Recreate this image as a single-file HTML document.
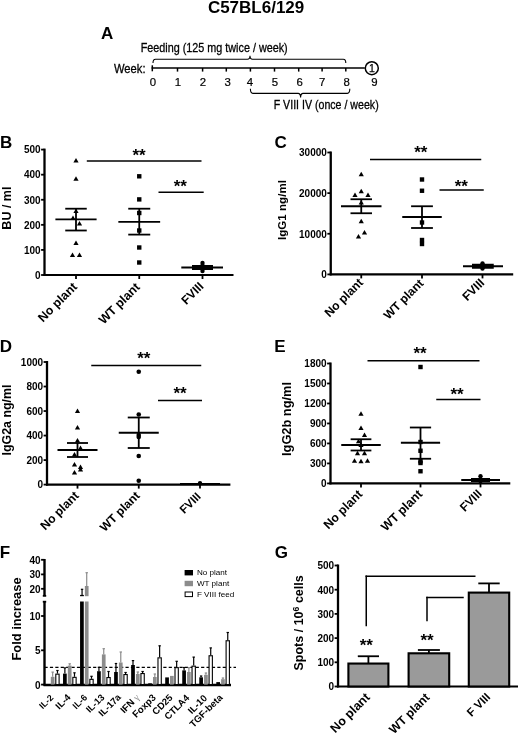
<!DOCTYPE html>
<html><head><meta charset="utf-8"><style>
html,body{margin:0;padding:0;background:#fff;}
svg{display:block;will-change:transform;font-family:"Liberation Sans", sans-serif;}
</style></head><body>
<svg width="520" height="735" viewBox="0 0 520 735">
<rect width="520" height="735" fill="#fff"/>
<text x="256.10" y="13.30" font-size="17" font-weight="bold" text-anchor="middle" fill="#000" >C57BL6/129</text>
<text x="101.00" y="39.40" font-size="17" font-weight="bold" text-anchor="start" fill="#000" >A</text>
<text x="140.70" y="52.10" font-size="12.6" font-weight="normal" text-anchor="start" fill="#000" textLength="147" lengthAdjust="spacingAndGlyphs" stroke="#000" stroke-width="0.3">Feeding (125 mg twice / week)</text>
<text x="114.00" y="73.00" font-size="12.6" font-weight="normal" text-anchor="start" fill="#000" textLength="31.5" lengthAdjust="spacingAndGlyphs" stroke="#000" stroke-width="0.3">Week:</text>
<line x1="151.60" y1="68.00" x2="364.80" y2="68.00" stroke="#000" stroke-width="1.7" />
<line x1="152.30" y1="65.30" x2="152.30" y2="71.30" stroke="#000" stroke-width="1.5" />
<line x1="177.50" y1="68.00" x2="177.50" y2="71.60" stroke="#000" stroke-width="1.5" />
<line x1="202.60" y1="68.00" x2="202.60" y2="71.60" stroke="#000" stroke-width="1.5" />
<line x1="226.30" y1="68.00" x2="226.30" y2="71.60" stroke="#000" stroke-width="1.5" />
<line x1="250.40" y1="68.00" x2="250.40" y2="71.60" stroke="#000" stroke-width="1.5" />
<line x1="274.50" y1="68.00" x2="274.50" y2="71.60" stroke="#000" stroke-width="1.5" />
<line x1="298.70" y1="68.00" x2="298.70" y2="71.60" stroke="#000" stroke-width="1.5" />
<line x1="322.10" y1="68.00" x2="322.10" y2="71.60" stroke="#000" stroke-width="1.5" />
<line x1="345.80" y1="68.00" x2="345.80" y2="71.60" stroke="#000" stroke-width="1.5" />
<text x="152.80" y="86.40" font-size="11.4" font-weight="normal" text-anchor="middle" fill="#000" stroke="#000" stroke-width="0.2">0</text>
<text x="177.90" y="86.40" font-size="11.4" font-weight="normal" text-anchor="middle" fill="#000" stroke="#000" stroke-width="0.2">1</text>
<text x="203.00" y="86.40" font-size="11.4" font-weight="normal" text-anchor="middle" fill="#000" stroke="#000" stroke-width="0.2">2</text>
<text x="227.70" y="86.40" font-size="11.4" font-weight="normal" text-anchor="middle" fill="#000" stroke="#000" stroke-width="0.2">3</text>
<text x="250.00" y="86.40" font-size="11.4" font-weight="normal" text-anchor="middle" fill="#000" stroke="#000" stroke-width="0.2">4</text>
<text x="275.00" y="86.40" font-size="11.4" font-weight="normal" text-anchor="middle" fill="#000" stroke="#000" stroke-width="0.2">5</text>
<text x="299.60" y="86.40" font-size="11.4" font-weight="normal" text-anchor="middle" fill="#000" stroke="#000" stroke-width="0.2">6</text>
<text x="322.10" y="86.40" font-size="11.4" font-weight="normal" text-anchor="middle" fill="#000" stroke="#000" stroke-width="0.2">7</text>
<text x="346.70" y="86.40" font-size="11.4" font-weight="normal" text-anchor="middle" fill="#000" stroke="#000" stroke-width="0.2">8</text>
<text x="374.30" y="86.40" font-size="11.4" font-weight="normal" text-anchor="middle" fill="#000" stroke="#000" stroke-width="0.2">9</text>
<circle cx="371.8" cy="68.2" r="6.5" fill="#fff" stroke="#000" stroke-width="1.5"/>
<text x="371.90" y="72.20" font-size="10.5" font-weight="normal" text-anchor="middle" fill="#000" stroke="#000" stroke-width="0.25">1</text>
<path d="M153.00 63.00 Q153.00 59.20 155.50 59.20 L247.50 59.20 Q250.00 59.20 250.00 55.80 Q250.00 59.20 252.50 59.20 L343.30 59.20 Q345.80 59.20 345.80 63.00" fill="none" stroke="#000" stroke-width="1.1"/>
<path d="M250.40 88.80 Q250.40 93.40 252.90 93.40 L298.10 93.40 Q300.60 93.40 300.60 97.60 Q300.60 93.40 303.10 93.40 L347.30 93.40 Q349.80 93.40 349.80 88.80" fill="none" stroke="#000" stroke-width="1.1"/>
<text x="273.70" y="108.60" font-size="12.6" font-weight="normal" text-anchor="start" fill="#000" textLength="105" lengthAdjust="spacingAndGlyphs" stroke="#000" stroke-width="0.3">F VIII IV (once / week)</text>
<text x="0.00" y="148.20" font-size="17" font-weight="bold" text-anchor="start" fill="#000" >B</text>
<line x1="44.50" y1="148.60" x2="44.50" y2="276.00" stroke="#000" stroke-width="2.3" />
<line x1="43.50" y1="275.00" x2="233.50" y2="275.00" stroke="#000" stroke-width="2.2" />
<line x1="41.10" y1="275.00" x2="44.50" y2="275.00" stroke="#000" stroke-width="1.8" />
<text x="40.60" y="278.80" font-size="10" font-weight="bold" text-anchor="end" fill="#000" >0</text>
<line x1="41.10" y1="249.92" x2="44.50" y2="249.92" stroke="#000" stroke-width="1.8" />
<text x="40.60" y="253.72" font-size="10" font-weight="bold" text-anchor="end" fill="#000" >100</text>
<line x1="41.10" y1="224.84" x2="44.50" y2="224.84" stroke="#000" stroke-width="1.8" />
<text x="40.60" y="228.64" font-size="10" font-weight="bold" text-anchor="end" fill="#000" >200</text>
<line x1="41.10" y1="199.76" x2="44.50" y2="199.76" stroke="#000" stroke-width="1.8" />
<text x="40.60" y="203.56" font-size="10" font-weight="bold" text-anchor="end" fill="#000" >300</text>
<line x1="41.10" y1="174.68" x2="44.50" y2="174.68" stroke="#000" stroke-width="1.8" />
<text x="40.60" y="178.48" font-size="10" font-weight="bold" text-anchor="end" fill="#000" >400</text>
<line x1="41.10" y1="149.60" x2="44.50" y2="149.60" stroke="#000" stroke-width="1.8" />
<text x="40.60" y="153.40" font-size="10" font-weight="bold" text-anchor="end" fill="#000" >500</text>
<line x1="76.00" y1="275.00" x2="76.00" y2="279.00" stroke="#000" stroke-width="1.8" />
<text transform="translate(78.00,287.60) rotate(-45)" font-size="12.4" font-weight="bold" text-anchor="end">No plant</text>
<line x1="139.25" y1="275.00" x2="139.25" y2="279.00" stroke="#000" stroke-width="1.8" />
<text transform="translate(140.65,287.80) rotate(-45)" font-size="12.4" font-weight="bold" text-anchor="end">WT plant</text>
<line x1="202.50" y1="275.00" x2="202.50" y2="279.00" stroke="#000" stroke-width="1.8" />
<text transform="translate(204.30,287.10) rotate(-45)" font-size="12.1" font-weight="bold" text-anchor="end">FVIII</text>
<text transform="translate(11.40,208.10) rotate(-90)" font-size="12.5" font-weight="bold" text-anchor="middle">BU / ml</text>
<path d="M76.00 157.90L78.60 162.58L73.40 162.58Z"/>
<path d="M76.00 176.15L78.60 180.83L73.40 180.83Z"/>
<path d="M76.00 208.40L78.60 213.08L73.40 213.08Z"/>
<path d="M73.00 215.40L75.60 220.08L70.40 220.08Z"/>
<path d="M79.50 220.90L82.10 225.58L76.90 225.58Z"/>
<path d="M76.00 240.40L78.60 245.08L73.40 245.08Z"/>
<path d="M72.50 252.40L75.10 257.08L69.90 257.08Z"/>
<path d="M79.50 252.40L82.10 257.08L76.90 257.08Z"/>
<line x1="55.40" y1="219.30" x2="96.60" y2="219.30" stroke="#000" stroke-width="1.8" />
<line x1="65.25" y1="208.70" x2="86.75" y2="208.70" stroke="#000" stroke-width="1.8" />
<line x1="65.25" y1="230.50" x2="86.75" y2="230.50" stroke="#000" stroke-width="1.8" />
<line x1="76.00" y1="208.70" x2="76.00" y2="230.50" stroke="#000" stroke-width="1.8" />
<rect x="137.05" y="174.10" width="4.40" height="4.40"/>
<rect x="137.05" y="197.20" width="4.40" height="4.40"/>
<rect x="137.05" y="210.80" width="4.40" height="4.40"/>
<rect x="137.05" y="228.30" width="4.40" height="4.40"/>
<rect x="137.05" y="245.30" width="4.40" height="4.40"/>
<rect x="137.05" y="260.30" width="4.40" height="4.40"/>
<line x1="118.35" y1="221.80" x2="160.15" y2="221.80" stroke="#000" stroke-width="1.8" />
<line x1="128.25" y1="208.70" x2="150.25" y2="208.70" stroke="#000" stroke-width="1.8" />
<line x1="128.25" y1="234.60" x2="150.25" y2="234.60" stroke="#000" stroke-width="1.8" />
<line x1="139.25" y1="208.70" x2="139.25" y2="234.60" stroke="#000" stroke-width="1.8" />
<circle cx="202.50" cy="263.00" r="2.2"/>
<circle cx="202.50" cy="266.00" r="2.2"/>
<circle cx="202.50" cy="268.50" r="2.2"/>
<circle cx="202.50" cy="271.00" r="2.2"/>
<circle cx="200.50" cy="267.00" r="2.2"/>
<circle cx="204.50" cy="267.00" r="2.2"/>
<line x1="181.30" y1="267.50" x2="223.00" y2="267.50" stroke="#000" stroke-width="1.8" />
<line x1="192.00" y1="267.50" x2="213.00" y2="267.50" stroke="#000" stroke-width="5" />
<line x1="86.80" y1="161.00" x2="201.50" y2="161.00" stroke="#000" stroke-width="1.6" />
<text x="139.00" y="160.62" font-size="17" font-weight="bold" text-anchor="middle" fill="#000" >**</text>
<line x1="158.50" y1="192.30" x2="203.70" y2="192.30" stroke="#000" stroke-width="1.6" />
<text x="180.30" y="192.32" font-size="17" font-weight="bold" text-anchor="middle" fill="#000" >**</text>
<text x="274.60" y="148.20" font-size="17" font-weight="bold" text-anchor="start" fill="#000" >C</text>
<line x1="330.75" y1="151.50" x2="330.75" y2="275.40" stroke="#000" stroke-width="2.3" />
<line x1="329.75" y1="274.40" x2="513.20" y2="274.40" stroke="#000" stroke-width="2.2" />
<line x1="327.35" y1="274.40" x2="330.75" y2="274.40" stroke="#000" stroke-width="1.8" />
<text x="326.85" y="278.20" font-size="10" font-weight="bold" text-anchor="end" fill="#000" >0</text>
<line x1="327.35" y1="233.77" x2="330.75" y2="233.77" stroke="#000" stroke-width="1.8" />
<text x="326.85" y="237.57" font-size="10" font-weight="bold" text-anchor="end" fill="#000" >10000</text>
<line x1="327.35" y1="193.13" x2="330.75" y2="193.13" stroke="#000" stroke-width="1.8" />
<text x="326.85" y="196.93" font-size="10" font-weight="bold" text-anchor="end" fill="#000" >20000</text>
<line x1="327.35" y1="152.50" x2="330.75" y2="152.50" stroke="#000" stroke-width="1.8" />
<text x="326.85" y="156.30" font-size="10" font-weight="bold" text-anchor="end" fill="#000" >30000</text>
<line x1="361.25" y1="274.40" x2="361.25" y2="278.40" stroke="#000" stroke-width="1.8" />
<text transform="translate(363.85,283.30) rotate(-45)" font-size="12.2" font-weight="bold" text-anchor="end">No plant</text>
<line x1="422.00" y1="274.40" x2="422.00" y2="278.40" stroke="#000" stroke-width="1.8" />
<text transform="translate(424.30,284.10) rotate(-45)" font-size="12.0" font-weight="bold" text-anchor="end">WT plant</text>
<line x1="482.50" y1="274.40" x2="482.50" y2="278.40" stroke="#000" stroke-width="1.8" />
<text transform="translate(485.20,283.50) rotate(-45)" font-size="12.1" font-weight="bold" text-anchor="end">FVIII</text>
<text transform="translate(286.20,210.00) rotate(-90)" font-size="11.6" font-weight="bold" text-anchor="middle">IgG1 ng/ml</text>
<path d="M361.25 171.65L363.85 176.33L358.65 176.33Z"/>
<path d="M355.00 192.40L357.60 197.08L352.40 197.08Z"/>
<path d="M361.25 188.65L363.85 193.33L358.65 193.33Z"/>
<path d="M368.00 192.40L370.60 197.08L365.40 197.08Z"/>
<path d="M361.25 199.90L363.85 204.58L358.65 204.58Z"/>
<path d="M361.25 218.65L363.85 223.33L358.65 223.33Z"/>
<path d="M364.50 229.90L367.10 234.58L361.90 234.58Z"/>
<path d="M358.50 233.90L361.10 238.58L355.90 238.58Z"/>
<line x1="341.00" y1="206.25" x2="381.50" y2="206.25" stroke="#000" stroke-width="1.8" />
<line x1="350.50" y1="199.25" x2="372.00" y2="199.25" stroke="#000" stroke-width="1.8" />
<line x1="350.50" y1="213.25" x2="372.00" y2="213.25" stroke="#000" stroke-width="1.8" />
<line x1="361.25" y1="199.25" x2="361.25" y2="213.25" stroke="#000" stroke-width="1.8" />
<rect x="419.80" y="177.30" width="4.40" height="4.40"/>
<rect x="419.80" y="188.55" width="4.40" height="4.40"/>
<rect x="419.80" y="220.30" width="4.40" height="4.40"/>
<rect x="419.80" y="237.80" width="4.40" height="4.40"/>
<rect x="419.80" y="241.80" width="4.40" height="4.40"/>
<line x1="402.25" y1="217.00" x2="441.75" y2="217.00" stroke="#000" stroke-width="1.8" />
<line x1="411.10" y1="206.25" x2="432.90" y2="206.25" stroke="#000" stroke-width="1.8" />
<line x1="411.10" y1="228.00" x2="432.90" y2="228.00" stroke="#000" stroke-width="1.8" />
<line x1="422.00" y1="206.25" x2="422.00" y2="228.00" stroke="#000" stroke-width="1.8" />
<circle cx="482.50" cy="263.50" r="2.2"/>
<circle cx="482.50" cy="266.00" r="2.2"/>
<circle cx="482.50" cy="268.50" r="2.2"/>
<circle cx="480.50" cy="266.00" r="2.2"/>
<circle cx="484.50" cy="266.00" r="2.2"/>
<line x1="463.00" y1="266.25" x2="503.00" y2="266.25" stroke="#000" stroke-width="1.8" />
<line x1="472.00" y1="266.25" x2="493.75" y2="266.25" stroke="#000" stroke-width="5" />
<line x1="370.00" y1="159.50" x2="481.25" y2="159.50" stroke="#000" stroke-width="1.6" />
<text x="420.75" y="157.62" font-size="17" font-weight="bold" text-anchor="middle" fill="#000" >**</text>
<line x1="439.50" y1="190.00" x2="483.75" y2="190.00" stroke="#000" stroke-width="1.6" />
<text x="461.25" y="191.62" font-size="17" font-weight="bold" text-anchor="middle" fill="#000" >**</text>
<text x="-0.30" y="352.40" font-size="17" font-weight="bold" text-anchor="start" fill="#000" >D</text>
<line x1="47.00" y1="361.00" x2="47.00" y2="485.60" stroke="#000" stroke-width="2.3" />
<line x1="46.00" y1="484.60" x2="230.40" y2="484.60" stroke="#000" stroke-width="2.2" />
<line x1="43.60" y1="484.60" x2="47.00" y2="484.60" stroke="#000" stroke-width="1.8" />
<text x="43.10" y="488.40" font-size="10" font-weight="bold" text-anchor="end" fill="#000" >0</text>
<line x1="43.60" y1="460.08" x2="47.00" y2="460.08" stroke="#000" stroke-width="1.8" />
<text x="43.10" y="463.88" font-size="10" font-weight="bold" text-anchor="end" fill="#000" >200</text>
<line x1="43.60" y1="435.56" x2="47.00" y2="435.56" stroke="#000" stroke-width="1.8" />
<text x="43.10" y="439.36" font-size="10" font-weight="bold" text-anchor="end" fill="#000" >400</text>
<line x1="43.60" y1="411.04" x2="47.00" y2="411.04" stroke="#000" stroke-width="1.8" />
<text x="43.10" y="414.84" font-size="10" font-weight="bold" text-anchor="end" fill="#000" >600</text>
<line x1="43.60" y1="386.52" x2="47.00" y2="386.52" stroke="#000" stroke-width="1.8" />
<text x="43.10" y="390.32" font-size="10" font-weight="bold" text-anchor="end" fill="#000" >800</text>
<line x1="43.60" y1="362.00" x2="47.00" y2="362.00" stroke="#000" stroke-width="1.8" />
<text x="43.10" y="365.80" font-size="10" font-weight="bold" text-anchor="end" fill="#000" >1000</text>
<line x1="77.50" y1="484.60" x2="77.50" y2="488.60" stroke="#000" stroke-width="1.8" />
<text transform="translate(79.70,496.30) rotate(-45)" font-size="12.2" font-weight="bold" text-anchor="end">No plant</text>
<line x1="138.75" y1="484.60" x2="138.75" y2="488.60" stroke="#000" stroke-width="1.8" />
<text transform="translate(140.55,496.40) rotate(-45)" font-size="12.0" font-weight="bold" text-anchor="end">WT plant</text>
<line x1="200.00" y1="484.60" x2="200.00" y2="488.60" stroke="#000" stroke-width="1.8" />
<text transform="translate(201.50,497.20) rotate(-45)" font-size="11.5" font-weight="bold" text-anchor="end">FVIII</text>
<text transform="translate(10.60,420.00) rotate(-90)" font-size="12.4" font-weight="bold" text-anchor="middle">IgG2a ng/ml</text>
<path d="M77.50 408.40L80.10 413.08L74.90 413.08Z"/>
<path d="M77.50 424.90L80.10 429.58L74.90 429.58Z"/>
<path d="M77.50 437.90L80.10 442.58L74.90 442.58Z"/>
<path d="M80.50 445.40L83.10 450.08L77.90 450.08Z"/>
<path d="M74.50 451.90L77.10 456.58L71.90 456.58Z"/>
<path d="M74.50 461.90L77.10 466.58L71.90 466.58Z"/>
<path d="M80.50 464.40L83.10 469.08L77.90 469.08Z"/>
<path d="M80.50 466.90L83.10 471.58L77.90 471.58Z"/>
<path d="M74.50 469.90L77.10 474.58L71.90 474.58Z"/>
<line x1="57.50" y1="450.00" x2="97.50" y2="450.00" stroke="#000" stroke-width="1.8" />
<line x1="67.00" y1="443.00" x2="88.00" y2="443.00" stroke="#000" stroke-width="1.8" />
<line x1="67.00" y1="457.00" x2="88.00" y2="457.00" stroke="#000" stroke-width="1.8" />
<line x1="77.50" y1="443.00" x2="77.50" y2="457.00" stroke="#000" stroke-width="1.8" />
<circle cx="138.75" cy="371.75" r="2.3"/>
<circle cx="138.75" cy="414.50" r="2.3"/>
<circle cx="138.75" cy="435.00" r="2.3"/>
<circle cx="138.75" cy="437.00" r="2.3"/>
<circle cx="138.75" cy="456.00" r="2.3"/>
<circle cx="138.75" cy="480.75" r="2.3"/>
<line x1="118.75" y1="432.75" x2="158.75" y2="432.75" stroke="#000" stroke-width="1.8" />
<line x1="127.75" y1="417.50" x2="149.75" y2="417.50" stroke="#000" stroke-width="1.8" />
<line x1="127.75" y1="448.00" x2="149.75" y2="448.00" stroke="#000" stroke-width="1.8" />
<line x1="138.75" y1="417.50" x2="138.75" y2="448.00" stroke="#000" stroke-width="1.8" />
<circle cx="200.00" cy="483.20" r="2.2"/>
<line x1="180.00" y1="483.80" x2="220.00" y2="483.80" stroke="#000" stroke-width="1.8" />
<line x1="91.25" y1="365.50" x2="201.25" y2="365.50" stroke="#000" stroke-width="1.6" />
<text x="143.75" y="364.12" font-size="17" font-weight="bold" text-anchor="middle" fill="#000" >**</text>
<line x1="158.00" y1="400.50" x2="202.00" y2="400.50" stroke="#000" stroke-width="1.6" />
<text x="180.00" y="399.12" font-size="17" font-weight="bold" text-anchor="middle" fill="#000" >**</text>
<text x="274.30" y="352.40" font-size="17" font-weight="bold" text-anchor="start" fill="#000" >E</text>
<line x1="330.50" y1="362.50" x2="330.50" y2="484.40" stroke="#000" stroke-width="2.3" />
<line x1="329.50" y1="483.40" x2="510.30" y2="483.40" stroke="#000" stroke-width="2.2" />
<line x1="327.10" y1="483.40" x2="330.50" y2="483.40" stroke="#000" stroke-width="1.8" />
<text x="326.60" y="487.20" font-size="10" font-weight="bold" text-anchor="end" fill="#000" >0</text>
<line x1="327.10" y1="463.42" x2="330.50" y2="463.42" stroke="#000" stroke-width="1.8" />
<text x="326.60" y="467.22" font-size="10" font-weight="bold" text-anchor="end" fill="#000" >300</text>
<line x1="327.10" y1="443.43" x2="330.50" y2="443.43" stroke="#000" stroke-width="1.8" />
<text x="326.60" y="447.23" font-size="10" font-weight="bold" text-anchor="end" fill="#000" >600</text>
<line x1="327.10" y1="423.45" x2="330.50" y2="423.45" stroke="#000" stroke-width="1.8" />
<text x="326.60" y="427.25" font-size="10" font-weight="bold" text-anchor="end" fill="#000" >900</text>
<line x1="327.10" y1="403.47" x2="330.50" y2="403.47" stroke="#000" stroke-width="1.8" />
<text x="326.60" y="407.27" font-size="10" font-weight="bold" text-anchor="end" fill="#000" >1200</text>
<line x1="327.10" y1="383.48" x2="330.50" y2="383.48" stroke="#000" stroke-width="1.8" />
<text x="326.60" y="387.28" font-size="10" font-weight="bold" text-anchor="end" fill="#000" >1500</text>
<line x1="327.10" y1="363.50" x2="330.50" y2="363.50" stroke="#000" stroke-width="1.8" />
<text x="326.60" y="367.30" font-size="10" font-weight="bold" text-anchor="end" fill="#000" >1800</text>
<line x1="361.00" y1="483.40" x2="361.00" y2="487.40" stroke="#000" stroke-width="1.8" />
<text transform="translate(363.20,494.90) rotate(-45)" font-size="12.3" font-weight="bold" text-anchor="end">No plant</text>
<line x1="420.50" y1="483.40" x2="420.50" y2="487.40" stroke="#000" stroke-width="1.8" />
<text transform="translate(423.10,494.80) rotate(-45)" font-size="12.4" font-weight="bold" text-anchor="end">WT plant</text>
<line x1="480.50" y1="483.40" x2="480.50" y2="487.40" stroke="#000" stroke-width="1.8" />
<text transform="translate(482.70,494.30) rotate(-45)" font-size="12.0" font-weight="bold" text-anchor="end">FVIII</text>
<text transform="translate(291.10,419.00) rotate(-90)" font-size="12.8" font-weight="bold" text-anchor="middle">IgG2b ng/ml</text>
<path d="M361.00 411.15L363.60 415.83L358.40 415.83Z"/>
<path d="M361.00 425.40L363.60 430.08L358.40 430.08Z"/>
<path d="M364.50 432.40L367.10 437.08L361.90 437.08Z"/>
<path d="M358.50 438.65L361.10 443.33L355.90 443.33Z"/>
<path d="M361.00 442.40L363.60 447.08L358.40 447.08Z"/>
<path d="M357.50 450.65L360.10 455.33L354.90 455.33Z"/>
<path d="M364.50 450.65L367.10 455.33L361.90 455.33Z"/>
<path d="M354.50 458.15L357.10 462.83L351.90 462.83Z"/>
<path d="M361.00 458.65L363.60 463.33L358.40 463.33Z"/>
<path d="M367.50 458.15L370.10 462.83L364.90 462.83Z"/>
<line x1="341.25" y1="445.00" x2="380.75" y2="445.00" stroke="#000" stroke-width="1.8" />
<line x1="350.62" y1="439.25" x2="371.38" y2="439.25" stroke="#000" stroke-width="1.8" />
<line x1="350.62" y1="450.50" x2="371.38" y2="450.50" stroke="#000" stroke-width="1.8" />
<line x1="361.00" y1="439.25" x2="361.00" y2="450.50" stroke="#000" stroke-width="1.8" />
<rect x="418.30" y="364.80" width="4.40" height="4.40"/>
<rect x="418.30" y="439.80" width="4.40" height="4.40"/>
<rect x="418.30" y="448.55" width="4.40" height="4.40"/>
<rect x="418.30" y="459.05" width="4.40" height="4.40"/>
<rect x="418.30" y="460.80" width="4.40" height="4.40"/>
<rect x="418.30" y="469.05" width="4.40" height="4.40"/>
<line x1="400.88" y1="442.75" x2="440.12" y2="442.75" stroke="#000" stroke-width="1.8" />
<line x1="409.88" y1="427.50" x2="431.12" y2="427.50" stroke="#000" stroke-width="1.8" />
<line x1="409.88" y1="458.75" x2="431.12" y2="458.75" stroke="#000" stroke-width="1.8" />
<line x1="420.50" y1="427.50" x2="420.50" y2="458.75" stroke="#000" stroke-width="1.8" />
<circle cx="480.50" cy="476.25" r="2.2"/>
<circle cx="480.50" cy="481.00" r="2.2"/>
<line x1="461.25" y1="480.00" x2="500.00" y2="480.00" stroke="#000" stroke-width="1.8" />
<line x1="471.00" y1="480.00" x2="490.00" y2="480.00" stroke="#000" stroke-width="4" />
<line x1="367.50" y1="360.75" x2="479.50" y2="360.75" stroke="#000" stroke-width="1.6" />
<text x="420.00" y="359.12" font-size="17" font-weight="bold" text-anchor="middle" fill="#000" >**</text>
<line x1="436.25" y1="399.50" x2="480.50" y2="399.50" stroke="#000" stroke-width="1.6" />
<text x="457.00" y="400.12" font-size="17" font-weight="bold" text-anchor="middle" fill="#000" >**</text>
<text x="-0.20" y="557.60" font-size="17" font-weight="bold" text-anchor="start" fill="#000" >F</text>
<line x1="44.50" y1="601.50" x2="44.50" y2="685.60" stroke="#000" stroke-width="2.4" />
<line x1="42.80" y1="601.70" x2="46.20" y2="601.70" stroke="#000" stroke-width="1.8" />
<line x1="44.50" y1="559.00" x2="44.50" y2="596.20" stroke="#000" stroke-width="2.4" />
<line x1="42.80" y1="595.80" x2="46.20" y2="595.80" stroke="#000" stroke-width="1.8" />
<line x1="41.10" y1="559.80" x2="44.50" y2="559.80" stroke="#000" stroke-width="1.8" />
<text x="40.60" y="563.70" font-size="10" font-weight="bold" text-anchor="end" fill="#000" >40</text>
<line x1="41.10" y1="574.40" x2="44.50" y2="574.40" stroke="#000" stroke-width="1.8" />
<text x="40.60" y="578.30" font-size="10" font-weight="bold" text-anchor="end" fill="#000" >30</text>
<line x1="41.10" y1="588.80" x2="44.50" y2="588.80" stroke="#000" stroke-width="1.8" />
<text x="40.60" y="592.70" font-size="10" font-weight="bold" text-anchor="end" fill="#000" >20</text>
<line x1="41.10" y1="684.60" x2="44.50" y2="684.60" stroke="#000" stroke-width="1.8" />
<text x="40.60" y="688.50" font-size="10" font-weight="bold" text-anchor="end" fill="#000" >0</text>
<line x1="41.10" y1="650.30" x2="44.50" y2="650.30" stroke="#000" stroke-width="1.8" />
<text x="40.60" y="654.20" font-size="10" font-weight="bold" text-anchor="end" fill="#000" >5</text>
<line x1="41.10" y1="616.00" x2="44.50" y2="616.00" stroke="#000" stroke-width="1.8" />
<text x="40.60" y="619.90" font-size="10" font-weight="bold" text-anchor="end" fill="#000" >10</text>
<line x1="43.50" y1="684.90" x2="231.00" y2="684.90" stroke="#000" stroke-width="2.5" />
<line x1="44.50" y1="667.30" x2="236.00" y2="667.30" stroke="#000" stroke-width="1.2" stroke-dasharray="3.2 2.2"/>
<text transform="translate(20.90,619.00) rotate(-90)" font-size="12.9" font-weight="bold" text-anchor="middle">Fold increase</text>
<line x1="52.65" y1="676.80" x2="52.65" y2="672.10" stroke="#8c8c8c" stroke-width="1.2" />
<line x1="51.45" y1="672.10" x2="53.85" y2="672.10" stroke="#8c8c8c" stroke-width="1.2" />
<rect x="50.80" y="676.80" width="3.7" height="7.80" fill="#8c8c8c"/>
<line x1="57.45" y1="673.60" x2="57.45" y2="670.50" stroke="#000" stroke-width="1.2" />
<line x1="56.25" y1="670.50" x2="58.65" y2="670.50" stroke="#000" stroke-width="1.2" />
<rect x="55.80" y="674.15" width="3.3" height="10.45" fill="#fff" stroke="#000" stroke-width="1.1"/>
<text class="fl" id="F0" transform="translate(53.90,698.30) rotate(-45)" font-size="8.9" font-weight="bold" text-anchor="end">IL-2</text>
<line x1="64.88" y1="673.60" x2="64.88" y2="667.90" stroke="#000" stroke-width="1.2" />
<line x1="63.68" y1="667.90" x2="66.08" y2="667.90" stroke="#000" stroke-width="1.2" />
<rect x="63.03" y="673.60" width="3.7" height="11.00" fill="#000"/>
<line x1="69.68" y1="665.60" x2="69.68" y2="663.80" stroke="#8c8c8c" stroke-width="1.2" />
<line x1="68.48" y1="663.80" x2="70.88" y2="663.80" stroke="#8c8c8c" stroke-width="1.2" />
<rect x="67.83" y="665.60" width="3.7" height="19.00" fill="#8c8c8c"/>
<line x1="74.48" y1="676.80" x2="74.48" y2="672.80" stroke="#000" stroke-width="1.2" />
<line x1="73.28" y1="672.80" x2="75.68" y2="672.80" stroke="#000" stroke-width="1.2" />
<rect x="72.83" y="677.35" width="3.3" height="7.25" fill="#fff" stroke="#000" stroke-width="1.1"/>
<text class="fl" id="F1" transform="translate(71.23,698.00) rotate(-45)" font-size="9.5" font-weight="bold" text-anchor="end">IL-4</text>
<rect x="80.06" y="601.50" width="3.7" height="83.10" fill="#000"/>
<rect x="84.86" y="601.50" width="3.7" height="83.10" fill="#8c8c8c"/>
<line x1="91.51" y1="678.80" x2="91.51" y2="676.30" stroke="#000" stroke-width="1.2" />
<line x1="90.31" y1="676.30" x2="92.71" y2="676.30" stroke="#000" stroke-width="1.2" />
<rect x="89.86" y="679.35" width="3.3" height="5.25" fill="#fff" stroke="#000" stroke-width="1.1"/>
<text class="fl" id="F2" transform="translate(87.86,698.10) rotate(-45)" font-size="9.2" font-weight="bold" text-anchor="end">IL-6</text>
<line x1="98.94" y1="671.20" x2="98.94" y2="667.30" stroke="#000" stroke-width="1.2" />
<line x1="97.74" y1="667.30" x2="100.14" y2="667.30" stroke="#000" stroke-width="1.2" />
<rect x="97.09" y="671.20" width="3.7" height="13.40" fill="#000"/>
<line x1="103.74" y1="654.40" x2="103.74" y2="648.70" stroke="#8c8c8c" stroke-width="1.2" />
<line x1="102.54" y1="648.70" x2="104.94" y2="648.70" stroke="#8c8c8c" stroke-width="1.2" />
<rect x="101.89" y="654.40" width="3.7" height="30.20" fill="#8c8c8c"/>
<line x1="108.54" y1="677.00" x2="108.54" y2="671.50" stroke="#000" stroke-width="1.2" />
<line x1="107.34" y1="671.50" x2="109.74" y2="671.50" stroke="#000" stroke-width="1.2" />
<rect x="106.89" y="677.55" width="3.3" height="7.05" fill="#fff" stroke="#000" stroke-width="1.1"/>
<text class="fl" id="F3" transform="translate(105.09,698.00) rotate(-45)" font-size="9.3" font-weight="bold" text-anchor="end">IL-13</text>
<line x1="115.97" y1="672.00" x2="115.97" y2="663.50" stroke="#000" stroke-width="1.2" />
<line x1="114.77" y1="663.50" x2="117.17" y2="663.50" stroke="#000" stroke-width="1.2" />
<rect x="114.12" y="672.00" width="3.7" height="12.60" fill="#000"/>
<line x1="120.77" y1="662.50" x2="120.77" y2="652.00" stroke="#8c8c8c" stroke-width="1.2" />
<line x1="119.57" y1="652.00" x2="121.97" y2="652.00" stroke="#8c8c8c" stroke-width="1.2" />
<rect x="118.92" y="662.50" width="3.7" height="22.10" fill="#8c8c8c"/>
<line x1="125.57" y1="674.00" x2="125.57" y2="672.50" stroke="#000" stroke-width="1.2" />
<line x1="124.37" y1="672.50" x2="126.77" y2="672.50" stroke="#000" stroke-width="1.2" />
<rect x="123.92" y="674.55" width="3.3" height="10.05" fill="#fff" stroke="#000" stroke-width="1.1"/>
<text class="fl" id="F4" transform="translate(121.52,697.80) rotate(-45)" font-size="9.4" font-weight="bold" text-anchor="end">IL-17a</text>
<line x1="133.00" y1="665.00" x2="133.00" y2="660.60" stroke="#000" stroke-width="1.2" />
<line x1="131.80" y1="660.60" x2="134.20" y2="660.60" stroke="#000" stroke-width="1.2" />
<rect x="131.15" y="665.00" width="3.7" height="19.60" fill="#000"/>
<line x1="137.80" y1="674.00" x2="137.80" y2="672.00" stroke="#8c8c8c" stroke-width="1.2" />
<line x1="136.60" y1="672.00" x2="139.00" y2="672.00" stroke="#8c8c8c" stroke-width="1.2" />
<rect x="135.95" y="674.00" width="3.7" height="10.60" fill="#8c8c8c"/>
<line x1="142.60" y1="673.00" x2="142.60" y2="671.50" stroke="#000" stroke-width="1.2" />
<line x1="141.40" y1="671.50" x2="143.80" y2="671.50" stroke="#000" stroke-width="1.2" />
<rect x="140.95" y="673.55" width="3.3" height="11.05" fill="#fff" stroke="#000" stroke-width="1.1"/>
<text class="fl" id="F5" transform="translate(139.95,698.00) rotate(-45)" font-size="9.6" font-weight="bold" text-anchor="end">IFN <tspan font-weight="normal" font-family="Liberation Serif" fill="#8a8a8a">γ</tspan></text>
<rect x="148.18" y="683.30" width="3.7" height="1.30" fill="#000"/>
<line x1="154.83" y1="677.00" x2="154.83" y2="674.00" stroke="#8c8c8c" stroke-width="1.2" />
<line x1="153.63" y1="674.00" x2="156.03" y2="674.00" stroke="#8c8c8c" stroke-width="1.2" />
<rect x="152.98" y="677.00" width="3.7" height="7.60" fill="#8c8c8c"/>
<line x1="159.63" y1="657.30" x2="159.63" y2="645.80" stroke="#000" stroke-width="1.2" />
<line x1="158.43" y1="645.80" x2="160.83" y2="645.80" stroke="#000" stroke-width="1.2" />
<rect x="157.98" y="657.85" width="3.3" height="26.75" fill="#fff" stroke="#000" stroke-width="1.1"/>
<text class="fl" id="F6" transform="translate(156.48,698.20) rotate(-45)" font-size="9.7" font-weight="bold" text-anchor="end">Foxp3</text>
<rect x="165.21" y="677.40" width="3.7" height="7.20" fill="#000"/>
<rect x="170.01" y="675.90" width="3.7" height="8.70" fill="#8c8c8c"/>
<line x1="176.66" y1="667.10" x2="176.66" y2="661.30" stroke="#000" stroke-width="1.2" />
<line x1="175.46" y1="661.30" x2="177.86" y2="661.30" stroke="#000" stroke-width="1.2" />
<rect x="175.01" y="667.65" width="3.3" height="16.95" fill="#fff" stroke="#000" stroke-width="1.1"/>
<text class="fl" id="F7" transform="translate(173.21,698.20) rotate(-45)" font-size="9.5" font-weight="bold" text-anchor="end">CD25</text>
<line x1="184.09" y1="670.40" x2="184.09" y2="667.50" stroke="#000" stroke-width="1.2" />
<line x1="182.89" y1="667.50" x2="185.29" y2="667.50" stroke="#000" stroke-width="1.2" />
<rect x="182.24" y="670.40" width="3.7" height="14.20" fill="#000"/>
<line x1="188.89" y1="672.00" x2="188.89" y2="667.70" stroke="#8c8c8c" stroke-width="1.2" />
<line x1="187.69" y1="667.70" x2="190.09" y2="667.70" stroke="#8c8c8c" stroke-width="1.2" />
<rect x="187.04" y="672.00" width="3.7" height="12.60" fill="#8c8c8c"/>
<line x1="193.69" y1="665.60" x2="193.69" y2="657.10" stroke="#000" stroke-width="1.2" />
<line x1="192.49" y1="657.10" x2="194.89" y2="657.10" stroke="#000" stroke-width="1.2" />
<rect x="192.04" y="666.15" width="3.3" height="18.45" fill="#fff" stroke="#000" stroke-width="1.1"/>
<text class="fl" id="F8" transform="translate(189.94,698.60) rotate(-45)" font-size="9.5" font-weight="bold" text-anchor="end">CTLA4</text>
<line x1="201.12" y1="677.30" x2="201.12" y2="676.00" stroke="#000" stroke-width="1.2" />
<line x1="199.92" y1="676.00" x2="202.32" y2="676.00" stroke="#000" stroke-width="1.2" />
<rect x="199.27" y="677.30" width="3.7" height="7.30" fill="#000"/>
<line x1="205.92" y1="674.80" x2="205.92" y2="673.00" stroke="#8c8c8c" stroke-width="1.2" />
<line x1="204.72" y1="673.00" x2="207.12" y2="673.00" stroke="#8c8c8c" stroke-width="1.2" />
<rect x="204.07" y="674.80" width="3.7" height="9.80" fill="#8c8c8c"/>
<line x1="210.72" y1="655.20" x2="210.72" y2="647.90" stroke="#000" stroke-width="1.2" />
<line x1="209.52" y1="647.90" x2="211.92" y2="647.90" stroke="#000" stroke-width="1.2" />
<rect x="209.07" y="655.75" width="3.3" height="28.85" fill="#fff" stroke="#000" stroke-width="1.1"/>
<text class="fl" id="F9" transform="translate(207.67,698.70) rotate(-45)" font-size="9.6" font-weight="bold" text-anchor="end">IL-10</text>
<rect x="216.30" y="682.10" width="3.7" height="2.50" fill="#000"/>
<line x1="222.95" y1="679.20" x2="222.95" y2="678.00" stroke="#8c8c8c" stroke-width="1.2" />
<line x1="221.75" y1="678.00" x2="224.15" y2="678.00" stroke="#8c8c8c" stroke-width="1.2" />
<rect x="221.10" y="679.20" width="3.7" height="5.40" fill="#8c8c8c"/>
<line x1="227.75" y1="640.20" x2="227.75" y2="632.50" stroke="#000" stroke-width="1.2" />
<line x1="226.55" y1="632.50" x2="228.95" y2="632.50" stroke="#000" stroke-width="1.2" />
<rect x="226.10" y="640.75" width="3.3" height="43.85" fill="#fff" stroke="#000" stroke-width="1.1"/>
<text class="fl" id="F10" transform="translate(223.20,698.10) rotate(-45)" font-size="9.6" font-weight="bold" text-anchor="end">TGF-beta</text>
<line x1="86.71" y1="586.00" x2="86.71" y2="572.70" stroke="#8c8c8c" stroke-width="1.2" />
<line x1="85.51" y1="572.70" x2="87.91" y2="572.70" stroke="#8c8c8c" stroke-width="1.2" />
<rect x="84.86" y="586" width="3.7" height="10.2" fill="#8c8c8c"/>
<rect x="80.06" y="594.9" width="3.8" height="1.3" fill="#000"/>
<line x1="82.06" y1="595.00" x2="82.06" y2="589.30" stroke="#000" stroke-width="1.2" />
<line x1="80.86" y1="589.30" x2="83.26" y2="589.30" stroke="#000" stroke-width="1.2" />
<rect x="184.6" y="570" width="8.4" height="5.4" fill="#000"/>
<rect x="184.6" y="580.8" width="8.4" height="5.4" fill="#8c8c8c"/>
<rect x="185.1" y="592" width="7.4" height="4.6" fill="#fff" stroke="#000" stroke-width="1"/>
<text x="196.90" y="575.10" font-size="8.1" font-weight="normal" text-anchor="start" fill="#000" >No plant</text>
<text x="196.90" y="585.90" font-size="8.1" font-weight="normal" text-anchor="start" fill="#000" >WT plant</text>
<text x="196.90" y="596.60" font-size="8.1" font-weight="normal" text-anchor="start" fill="#000" >F VIII feed</text>
<text x="274.70" y="557.60" font-size="17" font-weight="bold" text-anchor="start" fill="#000" >G</text>
<line x1="338.00" y1="564.50" x2="338.00" y2="687.50" stroke="#000" stroke-width="2.3" />
<line x1="337.00" y1="686.50" x2="518.00" y2="686.50" stroke="#000" stroke-width="2.2" />
<line x1="334.60" y1="686.50" x2="338.00" y2="686.50" stroke="#000" stroke-width="1.8" />
<text x="334.10" y="690.30" font-size="10" font-weight="bold" text-anchor="end" fill="#000" >0</text>
<line x1="334.60" y1="662.30" x2="338.00" y2="662.30" stroke="#000" stroke-width="1.8" />
<text x="334.10" y="666.10" font-size="10" font-weight="bold" text-anchor="end" fill="#000" >100</text>
<line x1="334.60" y1="638.10" x2="338.00" y2="638.10" stroke="#000" stroke-width="1.8" />
<text x="334.10" y="641.90" font-size="10" font-weight="bold" text-anchor="end" fill="#000" >200</text>
<line x1="334.60" y1="613.90" x2="338.00" y2="613.90" stroke="#000" stroke-width="1.8" />
<text x="334.10" y="617.70" font-size="10" font-weight="bold" text-anchor="end" fill="#000" >300</text>
<line x1="334.60" y1="589.70" x2="338.00" y2="589.70" stroke="#000" stroke-width="1.8" />
<text x="334.10" y="593.50" font-size="10" font-weight="bold" text-anchor="end" fill="#000" >400</text>
<line x1="334.60" y1="565.50" x2="338.00" y2="565.50" stroke="#000" stroke-width="1.8" />
<text x="334.10" y="569.30" font-size="10" font-weight="bold" text-anchor="end" fill="#000" >500</text>
<text transform="translate(370.70,698.10) rotate(-45)" font-size="12.5" font-weight="bold" text-anchor="end">No plant</text>
<text transform="translate(430.50,698.10) rotate(-45)" font-size="12.2" font-weight="bold" text-anchor="end">WT plant</text>
<text transform="translate(491.00,697.70) rotate(-45)" font-size="11.6" font-weight="bold" text-anchor="end">F VIII</text>
<text transform="translate(303.40,622.90) rotate(-90)" font-size="12.5" font-weight="bold" text-anchor="middle">Spots / 10<tspan dy="-4.6" font-size="8.8">6</tspan><tspan dy="4.6"> cells</tspan></text>
<line x1="368.40" y1="663.25" x2="368.40" y2="656.25" stroke="#000" stroke-width="1.8" />
<line x1="357.80" y1="656.25" x2="379.00" y2="656.25" stroke="#000" stroke-width="1.8" />
<rect x="348.40" y="663.55" width="40.00" height="22.95" fill="#9a9a9a" stroke="#000" stroke-width="2.1"/>
<line x1="428.90" y1="653.00" x2="428.90" y2="650.00" stroke="#000" stroke-width="1.8" />
<line x1="417.90" y1="650.00" x2="439.90" y2="650.00" stroke="#000" stroke-width="1.8" />
<rect x="408.60" y="653.30" width="40.60" height="33.20" fill="#9a9a9a" stroke="#000" stroke-width="2.1"/>
<line x1="489.00" y1="592.30" x2="489.00" y2="583.40" stroke="#000" stroke-width="1.8" />
<line x1="478.30" y1="583.40" x2="499.70" y2="583.40" stroke="#000" stroke-width="1.8" />
<rect x="468.80" y="592.60" width="40.40" height="93.90" fill="#9a9a9a" stroke="#000" stroke-width="2.1"/>
<line x1="366.25" y1="575.60" x2="366.25" y2="626.25" stroke="#000" stroke-width="1.5" />
<line x1="365.50" y1="576.25" x2="475.50" y2="576.25" stroke="#000" stroke-width="1.5" />
<line x1="426.25" y1="597.50" x2="463.75" y2="597.50" stroke="#000" stroke-width="1.5" />
<line x1="427.00" y1="596.80" x2="427.00" y2="621.25" stroke="#000" stroke-width="1.5" />
<text x="366.25" y="650.62" font-size="17" font-weight="bold" text-anchor="middle" fill="#000" >**</text>
<text x="427.00" y="646.12" font-size="17" font-weight="bold" text-anchor="middle" fill="#000" >**</text>
</svg>
</body></html>
